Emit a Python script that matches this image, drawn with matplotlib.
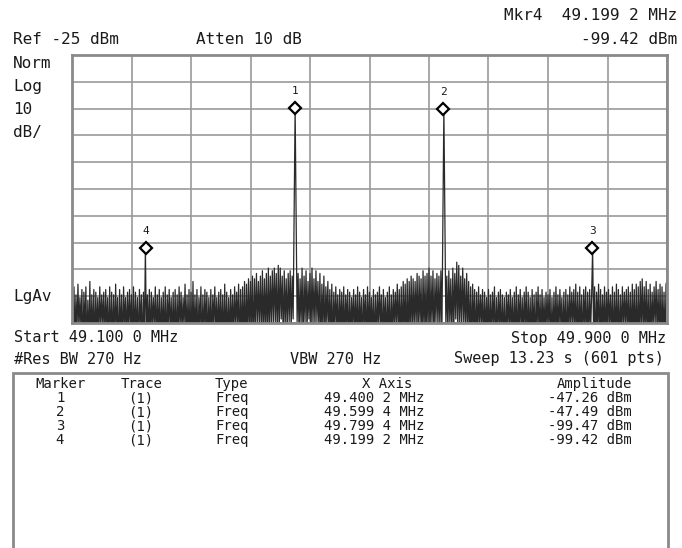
import numpy as np
import matplotlib
matplotlib.use("Agg")
import matplotlib.pyplot as plt
from matplotlib.patches import Rectangle

# sweep settings
start_mhz = 49.1
stop_mhz = 49.9
ref_top = -27.5      # top graticule line as it sits on screen
db_per_div = 10

# marker table
marker_ids = ["1", "2", "3", "4"]
marker_freq = [49.4002, 49.5994, 49.7994, 49.1992]
marker_amp = [-47.26, -47.49, -99.47, -99.42]
marker_freq_txt = ["49.400 2 MHz", "49.599 4 MHz", "49.799 4 MHz", "49.199 2 MHz"]
marker_amp_txt = ["-47.26 dBm", "-47.49 dBm", "-99.47 dBm", "-99.42 dBm"]

# trace, 601 pts, dBm (the dips run below the bottom line)
trace = [
    -116, -133, -114, -134, -117, -131, -113, -130, -118, -129, -115, -140, -116, -131, -114, -138, -119, -137, -112, -136,
    -117, -135, -115, -139, -116, -132, -118, -133, -114, -130, -117, -129, -116, -134, -115, -131, -118, -138, -114, -137,
    -116, -136, -117, -135, -113, -132, -118, -140, -115, -133, -117, -138, -114, -129, -118, -134, -116, -131, -115, -130,
    -117, -137, -114, -136, -116, -133, -118, -138, -115, -129, -117, -139, -116, -135, -99.4, -132, -117, -133, -115, -136,
    -116, -129, -118, -130, -114, -135, -117, -134, -115, -137, -118, -133, -116, -138, -114, -139, -117, -129, -115, -132,
    -118, -135, -116, -136, -115, -137, -117, -133, -114, -130, -116, -132, -118, -129, -113, -134, -117, -135, -115, -138,
    -116, -137, -112, -136, -117, -133, -115, -138, -118, -129, -114, -139, -117, -135, -115, -130, -116, -137, -118, -133,
    -115, -136, -117, -129, -114, -132, -118, -133, -116, -134, -115, -135, -117, -138, -113, -137, -116, -136, -118, -135,
    -115, -132, -117, -133, -114, -130, -116, -129, -113, -138, -115, -135, -114, -136, -112, -137, -113, -133, -111, -132,
    -112, -131, -110, -137, -111, -130, -109, -129, -112, -128, -110, -132, -108, -133, -111, -130, -109, -135, -107, -131,
    -110, -128, -108, -129, -107, -127, -109, -133, -106, -130, -107, -126, -110, -135, -108, -128, -111, -131, -109, -127,
    -108, -130, -110, -126, -86, -47.3, -88.5, -127, -109, -133, -111, -128, -107, -135, -110, -127, -108, -131, -112, -126,
    -109, -133, -107, -128, -111, -129, -108, -127, -112, -131, -109, -137, -113, -130, -110, -135, -114, -128, -112, -132,
    -115, -133, -113, -138, -116, -131, -114, -130, -117, -135, -115, -132, -116, -133, -114, -136, -117, -129, -115, -138,
    -116, -135, -118, -130, -115, -133, -117, -134, -114, -137, -116, -131, -118, -138, -115, -129, -117, -136, -114, -133,
    -116, -132, -118, -135, -115, -139, -117, -133, -116, -130, -114, -129, -117, -138, -115, -131, -118, -136, -116, -135,
    -114, -138, -117, -133, -115, -130, -116, -129, -113, -132, -115, -135, -114, -136, -112, -133, -113, -137, -111, -135,
    -112, -131, -110, -132, -111, -130, -112, -129, -109, -133, -110, -128, -111, -137, -108, -131, -110, -135, -109, -130,
    -107, -133, -110, -128, -108, -135, -111, -127, -109, -129, -110, -130, -108, -131, -88.7, -47.5, -90, -128, -110, -133,
    -108, -127, -111, -135, -107, -130, -109, -126, -104.8, -131, -106, -128, -110, -129, -107, -127, -111, -133, -109, -130,
    -112, -135, -114, -138, -113, -131, -115, -137, -116, -133, -114, -130, -117, -129, -115, -136, -116, -133, -118, -132,
    -115, -135, -117, -134, -116, -129, -114, -138, -118, -133, -116, -130, -115, -137, -117, -135, -118, -139, -116, -129,
    -117, -132, -115, -133, -118, -136, -116, -135, -114, -138, -117, -129, -115, -134, -118, -133, -116, -130, -114, -137,
    -116, -135, -118, -136, -115, -133, -117, -138, -116, -129, -114, -134, -117, -135, -115, -132, -118, -133, -116, -130,
    -117, -129, -115, -138, -118, -135, -116, -134, -114, -133, -117, -132, -115, -129, -118, -136, -116, -135, -115, -138,
    -117, -133, -114, -130, -116, -129, -115, -132, -113, -135, -116, -136, -114, -133, -117, -138, -115, -129, -114, -137,
    -116, -135, -115, -130, -117, -99.5, -133, -114, -138, -116, -129, -113, -136, -115, -133, -117, -132, -114, -135, -116,
    -130, -115, -129, -117, -133, -114, -138, -116, -135, -113, -136, -115, -137, -117, -133, -114, -130, -116, -129, -115,
    -132, -114, -135, -116, -136, -113, -133, -115, -137, -113, -138, -114, -135, -112, -130, -111, -133, -114, -132, -112,
    -135, -115, -138, -113, -133, -116, -130, -114, -129, -112, -132, -115, -133, -113, -136, -114, -135, -116, -137, -113,
    -112,
]

W, H = 682, 548
MONO = "DejaVu Sans Mono"
INK = "#1a1a1a"
GRID = "#9a9a9a"

fig = plt.figure(figsize=(W / 100, H / 100), dpi=100)
fig.patch.set_facecolor("white")


def px(x, y):
    return x / W, 1 - y / H


def label(x, y, s, ha="left", size=11.5):
    fig.text(*px(x, y), s, ha=ha, va="center", fontsize=size,
             family=MONO, color=INK)


# graticule
gx0, gy0, gx1, gy1 = 72, 55, 667, 323
ax = fig.add_axes([gx0 / W, 1 - gy1 / H, (gx1 - gx0) / W, (gy1 - gy0) / H])
freqs = np.linspace(start_mhz, stop_mhz, len(trace))
ax.plot(freqs, trace, color="#2a2a2a", lw=0.9)
ax.set_xlim(start_mhz, stop_mhz)
ax.set_ylim(ref_top - 10 * db_per_div, ref_top)
ax.set_xticks(np.linspace(start_mhz, stop_mhz, 11))
ax.set_yticks(np.linspace(ref_top - 10 * db_per_div, ref_top, 11))
ax.grid(True, color=GRID, lw=1.2)
ax.set_axisbelow(True)
ax.tick_params(length=0, labelbottom=False, labelleft=False)
for sp in ax.spines.values():
    sp.set_color("#8a8a8a")
    sp.set_linewidth(2)

for mid, f, a in zip(marker_ids, marker_freq, marker_amp):
    ax.plot([f], [a], marker="D", ms=6.5, mfc="white", mec="black", mew=1.6, zorder=5)
    ax.annotate(mid, (f, a), xytext=(0, 12), textcoords="offset points",
                ha="center", va="center", fontsize=8, family=MONO, color=INK)

# header / footer text
label(677, 15, "Mkr4  49.199 2 MHz", ha="right")
label(13, 40, "Ref -25 dBm")
label(196, 40, "Atten 10 dB")
label(677, 40, "-99.42 dBm", ha="right")
for i, s in enumerate(["Norm", "Log", "10", "dB/"]):
    label(13, 63 + 23 * i, s)
label(13, 296, "LgAv")
label(14, 338, "Start 49.100 0 MHz", size=11)
label(666, 338, "Stop 49.900 0 MHz", ha="right", size=11)
label(14, 359, "#Res BW 270 Hz", size=11)
label(290, 359, "VBW 270 Hz", size=11)
label(664, 359, "Sweep 13.23 s (601 pts)", ha="right", size=11)

# marker table box
fig.patches.append(Rectangle(px(13, H + 5), (668 - 13) / W, (H + 5 - 373) / H,
                             transform=fig.transFigure, fill=False,
                             edgecolor="#8a8a8a", lw=2))
ts = 10
label(60, 384, "Marker", ha="center", size=ts)
label(142, 384, "Trace", ha="center", size=ts)
label(215, 384, "Type", size=ts)
label(387, 384, "X Axis", ha="center", size=ts)
label(632, 384, "Amplitude", ha="right", size=ts)
for i in range(len(marker_ids)):
    y = 398 + 14 * i
    label(60, y, marker_ids[i], ha="center", size=ts)
    label(141, y, "(1)", ha="center", size=ts)
    label(215, y, "Freq", size=ts)
    label(424, y, marker_freq_txt[i], ha="right", size=ts)
    label(632, y, marker_amp_txt[i], ha="right", size=ts)

fig.savefig("out.png", dpi=100)
